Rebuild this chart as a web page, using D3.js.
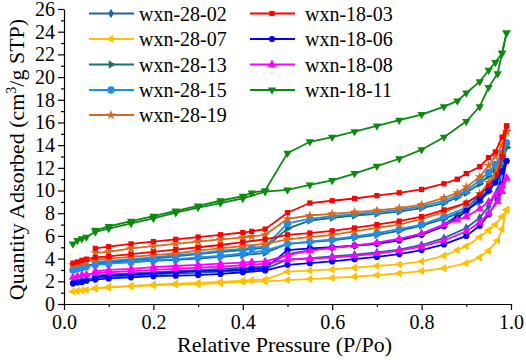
<!DOCTYPE html>
<html>
<head>
<meta charset="utf-8">
<script src="https://cdn.jsdelivr.net/npm/d3@7"></script>
<style>
  body { margin: 0; background: #fff; }
  text { font-family: "Liberation Serif", "Times New Roman", serif; fill: #000; }
</style>
</head>
<body>
<svg id="chart" width="526" height="360"></svg>
<script>
// relative pressure grids
const pAds = [0.02,0.03,0.04,0.05,0.07,0.1,0.15,0.2,0.25,0.3,0.35,0.4,0.45,0.5,0.55,0.6,0.65,0.7,0.75,0.8,0.85,0.9,0.93,0.95,0.97,0.98,0.99];
const pDes = [0.99,0.98,0.965,0.95,0.93,0.9,0.88,0.85,0.8,0.75,0.7,0.65,0.6,0.55,0.5,0.45,0.42,0.4,0.35,0.3,0.25,0.2,0.15,0.1,0.07];

const seriesNames = ['wxn-28-02','wxn-28-07','wxn-28-13','wxn-28-15','wxn-28-19','wxn-18-03','wxn-18-06','wxn-18-08','wxn-18-11'];

// adsorption / desorption branches (cm3/g STP)
const ads2802 = [1.95,2.05,2.1,2.2,2.3,2.4,2.5,2.6,2.7,2.75,2.85,2.95,3.1,3.9,4.05,4.2,4.35,4.55,4.8,5.2,5.8,6.7,7.6,8.6,10.0,11.7,14.0];
const des2802 = [14.0,12.8,11.6,10.6,9.6,8.4,7.8,7.0,6.2,5.7,5.35,5.15,4.95,4.75,4.4,3.3,3.25,3.2,3.1,3.0,2.9,2.8,2.7,2.6,2.5];
const ads2807 = [1.1,1.15,1.2,1.25,1.35,1.45,1.55,1.65,1.7,1.75,1.85,1.95,2.0,2.1,2.2,2.3,2.4,2.55,2.7,2.9,3.15,3.6,4.1,4.7,5.6,6.6,8.3];
const des2807 = [8.3,7.7,7.0,6.5,5.9,5.1,4.75,4.25,3.75,3.5,3.35,3.2,3.05,2.95,2.85,2.15,2.1,2.05,1.95,1.85,1.8,1.7,1.6,1.5,1.4];
const ads2813 = [3.15,3.25,3.3,3.4,3.5,3.6,3.7,3.8,3.9,4.0,4.15,4.3,4.5,5.3,5.45,5.6,5.85,6.1,6.45,6.9,7.5,8.3,9.0,9.9,11.0,12.2,13.8];
const des2813 = [13.8,13.0,12.0,11.3,10.6,9.8,9.4,8.9,8.45,8.15,7.95,7.8,7.6,7.35,6.65,4.95,4.85,4.75,4.6,4.4,4.2,4.0,3.85,3.7,3.6];
const ads2815 = [3.0,3.1,3.2,3.3,3.45,3.55,3.7,3.85,3.95,4.1,4.25,4.45,4.7,5.3,5.5,5.7,5.95,6.25,6.6,7.0,7.7,8.5,9.3,10.2,11.4,12.6,14.2];
const des2815 = [14.2,13.3,12.3,11.6,10.9,10.0,9.6,9.1,8.6,8.3,8.1,7.95,7.75,7.5,7.1,5.05,4.95,4.85,4.7,4.45,4.3,4.1,3.95,3.8,3.7];
const ads2819 = [3.45,3.55,3.65,3.75,3.9,4.0,4.15,4.3,4.45,4.7,4.9,5.1,5.3,5.7,5.9,6.1,6.4,6.7,7.0,7.5,8.1,8.9,9.7,10.7,11.9,13.3,15.2];
const des2819 = [15.2,14.0,13.0,12.2,11.2,10.3,9.8,9.35,8.75,8.45,8.25,8.1,7.95,7.8,7.5,6.1,5.95,5.85,5.7,5.5,5.3,5.1,4.9,4.6,4.5];
const ads1803 = [3.6,3.7,3.85,3.95,4.1,4.2,4.4,4.6,4.8,5.0,5.2,5.45,5.7,6.1,6.25,6.45,6.7,7.0,7.3,7.7,8.3,8.9,9.6,10.4,11.4,13.0,15.7];
const des1803 = [15.7,14.7,13.4,12.9,12.1,11.5,11.0,10.6,10.1,9.8,9.55,9.3,9.1,8.9,8.05,6.6,6.4,6.3,6.1,5.9,5.7,5.5,5.3,5.05,4.9];
const ads1806 = [1.8,1.9,1.95,2.05,2.15,2.25,2.35,2.45,2.5,2.55,2.65,2.8,2.95,3.45,3.6,3.75,3.95,4.15,4.4,4.75,5.25,6.0,6.9,7.9,9.2,10.6,12.6];
const des1806 = [12.6,11.7,10.7,10.0,9.2,8.2,7.6,6.85,6.1,5.6,5.3,5.15,5.0,4.9,4.75,3.15,3.1,3.05,2.95,2.9,2.8,2.7,2.6,2.5,2.4];
const ads1808 = [2.35,2.45,2.55,2.6,2.7,2.8,2.9,3.0,3.1,3.2,3.3,3.4,3.55,3.9,4.0,4.1,4.25,4.45,4.7,5.05,5.6,6.4,7.2,8.0,9.0,9.9,11.1];
const des1808 = [11.1,10.4,9.6,9.0,8.4,7.7,7.4,7.0,6.2,5.75,5.4,5.15,4.95,4.7,4.3,3.75,3.7,3.65,3.55,3.45,3.35,3.25,3.1,3.0,2.9];
const ads1811 = [5.3,5.6,5.75,5.9,6.35,6.65,7.1,7.55,8.05,8.5,8.9,9.3,9.9,10.05,10.5,10.9,11.5,12.15,12.8,13.6,14.7,16.1,17.4,19.1,20.3,22.1,23.9];
const des1811 = [23.9,22.1,21.3,20.6,19.6,18.6,17.9,17.4,16.7,16.2,15.7,15.2,14.7,14.3,13.3,10.0,9.8,9.5,9.1,8.65,8.2,7.75,7.3,6.85,6.5];

const yTicks = [0,2,4,6,8,10,12,14,16,18,20,22,24,26];
const xTicks = [0,0.2,0.4,0.6,0.8,1.0];

// styles
const colors = ['#1f64a0','#ffc000','#187272','#1c8ef0','#d9691c','#ff0000','#0000ff','#ff00ff','#0b8a10'];
const shapes = ['diamond','left','right','circleL','star','square','circle','up','down'];

const series = seriesNames.map((name, i) => ({
    name,
    color: colors[i],
    shape: shapes[i],
    ads: [ads2802,ads2807,ads2813,ads2815,ads2819,ads1803,ads1806,ads1808,ads1811][i].map((v, j) => [pAds[j], v]),
    des: [des2802,des2807,des2813,des2815,des2819,des1803,des1806,des1808,des1811][i].map((v, j) => [pDes[j], v])
}));

const svg = d3.select('#chart');
const plotLeft = 64, plotRight = 511, plotTop = 9, plotBottom = 304;

const xScale = d3.scaleLinear().domain([0, 1]).range([plotLeft, plotRight]);
const yScale = d3.scaleLinear().domain([0, 26]).range([plotBottom, plotTop]);

function symbolPath(shape) {
    let type = d3.symbolTriangle, size = 30;
    if (shape === 'diamond') { type = d3.symbolDiamond; size = 26; }
    if (shape === 'circle') { type = d3.symbolCircle; size = 30; }
    if (shape === 'circleL') { type = d3.symbolCircle; size = 42; }
    if (shape === 'star') { type = d3.symbolStar; size = 30; }
    if (shape === 'square') { type = d3.symbolSquare; size = 28; }
    return d3.symbol().type(type).size(size)();
}
function symbolRotate(shape) {
    if (shape === 'left') return -90;
    if (shape === 'right') return 90;
    if (shape === 'down') return 180;
    return 0;
}

//axes
svg.append('g')
    .attr('transform', `translate(${plotLeft}, 0)`)
    .call(d3.axisLeft(yScale).tickValues(yTicks).tickSize(6).tickSizeOuter(0).tickPadding(3));
svg.append('g')
    .attr('transform', `translate(${plotLeft}, 0)`)
    .call(d3.axisLeft(yScale).tickValues(d3.range(1, 26, 2)).tickSize(3).tickFormat(''))
    .select('.domain').remove();

svg.append('g')
    .attr('transform', `translate(0, ${plotBottom})`)
    .call(d3.axisBottom(xScale).tickValues(xTicks).tickSize(6).tickSizeOuter(0).tickPadding(5).tickFormat(d3.format('.1f')));
svg.append('g')
    .attr('transform', `translate(0, ${plotBottom})`)
    .call(d3.axisBottom(xScale).tickValues(d3.range(0.1, 1, 0.2)).tickSize(3).tickFormat(''))
    .select('.domain').remove();

svg.selectAll('.domain, .tick line')
    .attr('stroke', '#000')
    .attr('stroke-width', 1.2);
svg.selectAll('.tick text')
    .style('font-family', '"Liberation Serif", serif')
    .style('font-size', '20px')
    .attr('fill', '#000');

// axis labels
svg.append('text')
    .attr('x', (plotLeft + plotRight) / 2 - 3)
    .attr('y', 352)
    .attr('text-anchor', 'middle')
    .style('font-size', '22px')
    .text('Relative Pressure (P/Po)');

const yLabel = svg.append('text')
    .attr('transform', `translate(24, ${(plotTop + plotBottom) / 2 + 3}) rotate(-90)`)
    .attr('text-anchor', 'middle')
    .style('font-size', '22px');
yLabel.append('tspan').text('Quantity Adsorbed (cm');
yLabel.append('tspan').attr('dy', -8).style('font-size', '14px').text('3');
yLabel.append('tspan').attr('dy', 8).text('/g STP)');

// curves
const line = d3.line()
    .x(d => xScale(d[0]))
    .y(d => yScale(d[1]));

const groups = svg.append('g')
    .selectAll('g')
    .data(series)
    .enter()
    .append('g');

groups.each(function (s) {
    const g = d3.select(this);
    [s.ads, s.des].forEach(branch => {
        g.append('path')
            .attr('d', line(branch))
            .attr('fill', 'none')
            .attr('stroke', s.color)
            .attr('stroke-width', 1.8);
        g.selectAll(null)
            .data(branch)
            .enter()
            .append('path')
                .attr('d', symbolPath(s.shape))
                .attr('transform', d => `translate(${xScale(d[0])}, ${yScale(d[1])}) rotate(${symbolRotate(s.shape)})`)
                .attr('fill', s.color);
    });
});

// legend
const legendRows = [13.5, 39, 64.5, 90, 115];
const legend = svg.append('g')
    .selectAll('g')
    .data(series)
    .enter()
    .append('g')
        .attr('transform', (d, i) => i < 5
            ? `translate(89, ${legendRows[i]})`
            : `translate(250, ${legendRows[i - 5]})`);

legend.append('line')
    .attr('x1', 0).attr('x2', 45)
    .attr('stroke', d => d.color)
    .attr('stroke-width', 2.2);
legend.append('path')
    .attr('d', d => symbolPath(d.shape))
    .attr('transform', d => `translate(22, 0) rotate(${symbolRotate(d.shape)})`)
    .attr('fill', d => d.color);
legend.append('text')
    .attr('x', (d, i) => i < 5 ? 50 : 55)
    .attr('y', 7)
    .style('font-size', '20px')
    .text(d => d.name);
</script>
</body>
</html>
